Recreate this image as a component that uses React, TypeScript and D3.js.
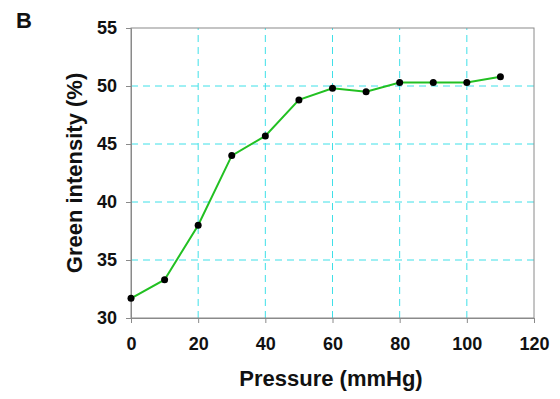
import { useEffect, useRef } from "react";
import * as d3 from "d3";

const pressure = [0, 10, 20, 30, 40, 50, 60, 70, 80, 90, 100, 110];
const greenIntensity = [31.7, 33.3, 38.0, 44.0, 45.7, 48.8, 49.8, 49.5, 50.3, 50.3, 50.3, 50.8];
const xTicks = [0, 20, 40, 60, 80, 100, 120];
const yTicks = [30, 35, 40, 45, 50, 55];

export default function App() {
  const svgRef = useRef<SVGSVGElement | null>(null);

  useEffect(() => {
    const width = 560;
    const height = 399;
    const margin = { top: 28, right: 26, bottom: 81, left: 131 };
    const font = "'Liberation Sans', Arial, sans-serif";

    const svg = d3.select(svgRef.current);
    svg.selectAll("*").remove();
    svg.attr("width", width).attr("height", height);

    const x = d3.scaleLinear().domain([0, 120]).range([margin.left, width - margin.right]);
    const y = d3.scaleLinear().domain([30, 55]).range([height - margin.bottom, margin.top]);

    // grid lines
    const grid = svg.append("g");
    grid.selectAll("line.v")
      .data(xTicks.slice(1, -1))
      .join("line")
      .attr("x1", d => x(d)).attr("x2", d => x(d))
      .attr("y1", y(30)).attr("y2", y(55))
      .attr("stroke", "#3fe0e8")
      .attr("stroke-width", 1)
      .attr("stroke-dasharray", "7,5");
    grid.selectAll("line.h")
      .data(yTicks.slice(1, -1))
      .join("line")
      .attr("x1", x(0)).attr("x2", x(120))
      .attr("y1", d => y(d)).attr("y2", d => y(d))
      .attr("stroke", "#3fe0e8")
      .attr("stroke-width", 1)
      .attr("stroke-dasharray", "7,5");

    // frame
    svg.append("rect")
      .attr("x", x(0)).attr("y", y(55))
      .attr("width", x(120) - x(0)).attr("height", y(30) - y(55))
      .attr("fill", "none")
      .attr("stroke", "#8a8a8a")
      .attr("stroke-width", 1);

    // x axis
    const xAxis = svg.append("g")
      .attr("transform", `translate(0,${y(30)})`)
      .call(d3.axisBottom(x).tickValues(xTicks).tickSize(5).tickPadding(14));
    xAxis.select(".domain").attr("stroke", "#8a8a8a");
    xAxis.selectAll(".tick line").attr("stroke", "#8a8a8a");
    xAxis.selectAll(".tick text")
      .attr("font-family", font).attr("font-size", 18).attr("font-weight", "bold").attr("fill", "#111");

    // y axis
    const yAxis = svg.append("g")
      .attr("transform", `translate(${x(0)},0)`)
      .call(d3.axisLeft(y).tickValues(yTicks).tickSize(5).tickPadding(9));
    yAxis.select(".domain").attr("stroke", "#8a8a8a");
    yAxis.selectAll(".tick line").attr("stroke", "#8a8a8a");
    yAxis.selectAll(".tick text")
      .attr("font-family", font).attr("font-size", 18).attr("font-weight", "bold").attr("fill", "#111");

    // line + points
    const pts = pressure.map((p, i) => [p, greenIntensity[i]] as [number, number]);
    const line = d3.line<[number, number]>().x(d => x(d[0])).y(d => y(d[1]));
    svg.append("path")
      .datum(pts)
      .attr("d", line)
      .attr("fill", "none")
      .attr("stroke", "#22c022")
      .attr("stroke-width", 2);
    svg.selectAll("circle")
      .data(pts)
      .join("circle")
      .attr("cx", d => x(d[0]))
      .attr("cy", d => y(d[1]))
      .attr("r", 3.5)
      .attr("fill", "#000");

    // titles
    svg.append("text")
      .attr("x", 331)
      .attr("y", 386)
      .attr("text-anchor", "middle")
      .attr("font-family", font).attr("font-size", 22).attr("font-weight", "bold").attr("fill", "#111")
      .text("Pressure (mmHg)");
    svg.append("text")
      .attr("transform", `translate(82,${(y(30) + y(55)) / 2}) rotate(-90)`)
      .attr("text-anchor", "middle")
      .attr("font-family", font).attr("font-size", 22).attr("font-weight", "bold").attr("fill", "#111")
      .text("Green intensity (%)");
    svg.append("text")
      .attr("x", 16).attr("y", 28)
      .attr("font-family", font).attr("font-size", 22).attr("font-weight", "bold").attr("fill", "#111")
      .text("B");
  }, []);

  return (
    <svg ref={svgRef} style={{ position: "absolute", left: 0, top: 0, background: "#fff" }} />
  );
}
